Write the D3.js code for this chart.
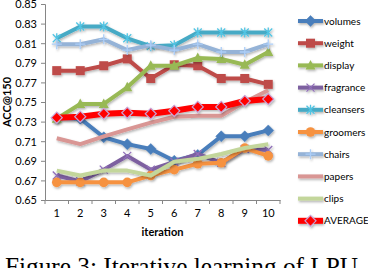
<!DOCTYPE html>
<html>
<head>
<meta charset="utf-8">
<script src="https://cdn.jsdelivr.net/npm/d3@7"></script>
<style>
  body { margin: 0; background: #fff; }
  svg { display: block; }
  .tick text { font-family: Lato, "Open Sans", sans-serif; font-size: 11px; fill: #000; }
</style>
</head>
<body>
<script>
//data
const iterations = ["1", "2", "3", "4", "5", "6", "7", "8", "9", "10"];
const yTicks = [0.65, 0.67, 0.69, 0.71, 0.73, 0.75, 0.77, 0.79, 0.81, 0.83, 0.85];

const volumes    = [0.734, 0.733, 0.714, 0.707, 0.702, 0.690, 0.696, 0.715, 0.715, 0.721];
const weight     = [0.782, 0.782, 0.787, 0.794, 0.774, 0.788, 0.787, 0.774, 0.774, 0.768];
const display    = [0.733, 0.748, 0.748, 0.765, 0.787, 0.787, 0.795, 0.794, 0.788, 0.801];
const fragrance  = [0.675, 0.669, 0.681, 0.695, 0.681, 0.689, 0.697, 0.688, 0.702, 0.701];
const cleansers  = [0.815, 0.827, 0.827, 0.815, 0.807, 0.808, 0.821, 0.821, 0.821, 0.821];
const groomers   = [0.668, 0.668, 0.668, 0.668, 0.675, 0.681, 0.687, 0.688, 0.703, 0.695];
const chairs     = [0.809, 0.809, 0.814, 0.803, 0.808, 0.803, 0.809, 0.801, 0.801, 0.809];
const papers     = [0.713, 0.707, 0.715, 0.722, 0.729, 0.735, 0.736, 0.736, 0.750, 0.762];
const clips      = [0.680, 0.675, 0.680, 0.680, 0.675, 0.689, 0.692, 0.697, 0.703, 0.707];
const average    = [0.734, 0.735, 0.738, 0.739, 0.738, 0.741, 0.745, 0.745, 0.751, 0.753];

const seriesNames = ["volumes", "weight", "display", "fragrance", "cleansers",
                     "groomers", "chairs", "papers", "clips", "AVERAGE"];
const seriesValues = [volumes, weight, display, fragrance, cleansers,
                      groomers, chairs, papers, clips, average];

//styles per series
const colors = ["#4a7ebb", "#be4b48", "#98b954", "#7d60a0", "#46aac5",
                "#f69240", "#95b3d7", "#d99694", "#c3d69b", "#ff0000"];
const markers = ["diamond", "square", "triangle", "x", "asterisk",
                 "circle", "plus", null, null, "avgdiamond"];

const W = 368, H = 268;
const plotLeft = 45, plotRight = 280, plotTop = 4, plotBottom = 200;

const svg = d3.select("body")
    .append("svg")
    .attr("width", W)
    .attr("height", H);

//soft excel-like shadow (user space so flat lines keep it)
const defs = svg.append("defs");
const filt = defs.append("filter").attr("id", "shadow")
    .attr("filterUnits", "userSpaceOnUse")
    .attr("x", 0).attr("y", 0).attr("width", W).attr("height", H);
filt.append("feDropShadow")
    .attr("dx", 1).attr("dy", 1.5).attr("stdDeviation", 1)
    .attr("flood-color", "#000").attr("flood-opacity", 0.3);

const x = d3.scaleBand()
    .domain(iterations)
    .range([plotLeft, plotRight]);

const y = d3.scaleLinear()
    .domain([0.65, 0.85])
    .range([plotBottom, plotTop]);

//y axis
const yAxis = svg.append("g")
    .attr("transform", "translate(" + plotLeft + ",0)")
    .call(d3.axisLeft(y).tickValues(yTicks).tickFormat(d3.format(".2f")).tickSize(4).tickPadding(4));
yAxis.select(".domain").attr("stroke", "#868686");
yAxis.selectAll(".tick line").attr("stroke", "#868686");
yAxis.selectAll(".tick text").attr("dy", "0.36em");

//x axis: ticks sit between categories
const xAxis = svg.append("g")
    .attr("transform", "translate(0," + plotBottom + ")")
    .call(d3.axisBottom(x).tickSize(0).tickPadding(9));
xAxis.select(".domain").attr("stroke", "#868686");
xAxis.selectAll(".tick line").remove();
xAxis.selectAll(".edge")
    .data(d3.range(iterations.length + 1))
    .enter()
    .append("line")
    .attr("x1", function (d) { return plotLeft + d * x.step(); })
    .attr("x2", function (d) { return plotLeft + d * x.step(); })
    .attr("y1", 0)
    .attr("y2", 4)
    .attr("stroke", "#868686");

//axis titles
svg.append("text")
    .attr("transform", "translate(11," + ((plotTop + plotBottom) / 2) + ") rotate(-90)")
    .attr("text-anchor", "middle")
    .style("font-family", "Lato, 'Open Sans', sans-serif")
    .style("font-size", "11px")
    .style("font-weight", "bold")
    .text("ACC@150");

svg.append("text")
    .attr("x", (plotLeft + plotRight) / 2)
    .attr("y", 236)
    .attr("text-anchor", "middle")
    .style("font-family", "Lato, 'Open Sans', sans-serif")
    .style("font-size", "11px")
    .style("font-weight", "bold")
    .text("iteration");

//draws a marker of a given kind centred on (cx, cy)
function drawMarker(g, kind, cx, cy, color) {
    if (kind === "diamond" || kind === "avgdiamond") {
        const r = 5.5;
        g.append("path")
            .attr("d", "M" + cx + "," + (cy - r) + "L" + (cx + r) + "," + cy +
                       "L" + cx + "," + (cy + r) + "L" + (cx - r) + "," + cy + "Z")
            .attr("fill", color)
            .attr("stroke", kind === "avgdiamond" ? "#c9a3d6" : color)
            .attr("stroke-width", kind === "avgdiamond" ? 1.2 : 0.5);
    } else if (kind === "square") {
        g.append("rect")
            .attr("x", cx - 4.5).attr("y", cy - 4.5)
            .attr("width", 9).attr("height", 9)
            .attr("fill", color);
    } else if (kind === "triangle") {
        g.append("path")
            .attr("d", "M" + cx + "," + (cy - 5.5) + "L" + (cx + 5) + "," + (cy + 4) +
                       "L" + (cx - 5) + "," + (cy + 4) + "Z")
            .attr("fill", color);
    } else if (kind === "circle") {
        g.append("circle")
            .attr("cx", cx).attr("cy", cy).attr("r", 4.8)
            .attr("fill", color);
    } else if (kind === "x" || kind === "asterisk" || kind === "plus") {
        let p = "";
        if (kind !== "plus") {
            p += "M" + (cx - 4) + "," + (cy - 4) + "L" + (cx + 4) + "," + (cy + 4);
            p += "M" + (cx - 4) + "," + (cy + 4) + "L" + (cx + 4) + "," + (cy - 4);
        }
        if (kind !== "x") {
            p += "M" + cx + "," + (cy - 5) + "L" + cx + "," + (cy + 5);
        }
        if (kind === "plus") {
            p += "M" + (cx - 5) + "," + cy + "L" + (cx + 5) + "," + cy;
        }
        g.append("path")
            .attr("d", p)
            .attr("stroke", d3.color(color).brighter(0.4))
            .attr("stroke-width", 1.3)
            .attr("fill", "none");
    }
}

const line = d3.line()
    .x(function (d, i) { return x(iterations[i]) + x.bandwidth() / 2; })
    .y(function (d) { return y(d); });

//series lines with markers
seriesValues.forEach(function (vals, s) {
    const g = svg.append("g").attr("filter", "url(#shadow)");
    g.append("path")
        .datum(vals)
        .attr("d", line)
        .attr("fill", "none")
        .attr("stroke", colors[s])
        .attr("stroke-width", s === 9 ? 6 : 4)
        .attr("stroke-linejoin", "round");
    if (markers[s]) {
        vals.forEach(function (v, i) {
            drawMarker(g, markers[s], x(iterations[i]) + x.bandwidth() / 2, y(v), colors[s]);
        });
    }
});

//legend
const legend = svg.append("g");
seriesNames.forEach(function (name, s) {
    const ly = 21 + s * 22.2;
    const g = legend.append("g").attr("filter", "url(#shadow)");
    g.append("line")
        .attr("x1", 298).attr("x2", 323)
        .attr("y1", ly).attr("y2", ly)
        .attr("stroke", colors[s])
        .attr("stroke-width", s === 9 ? 6 : 4);
    if (markers[s]) drawMarker(g, markers[s], 310.5, ly, colors[s]);
    legend.append("text")
        .attr("x", 324)
        .attr("y", ly + 3.5)
        .style("font-family", "Lato, 'Open Sans', sans-serif")
        .style("font-size", "10px")
        .text(name);
});

//figure caption, cut by the bottom edge
svg.append("text")
    .attr("x", 5)
    .attr("y", 275)
    .attr("textLength", 353)
    .attr("lengthAdjust", "spacingAndGlyphs")
    .style("font-family", "'Liberation Serif', 'DejaVu Serif', serif")
    .style("font-size", "25px")
    .text("Figure 3:  Iterative learning of LPU");
</script>
</body>
</html>
